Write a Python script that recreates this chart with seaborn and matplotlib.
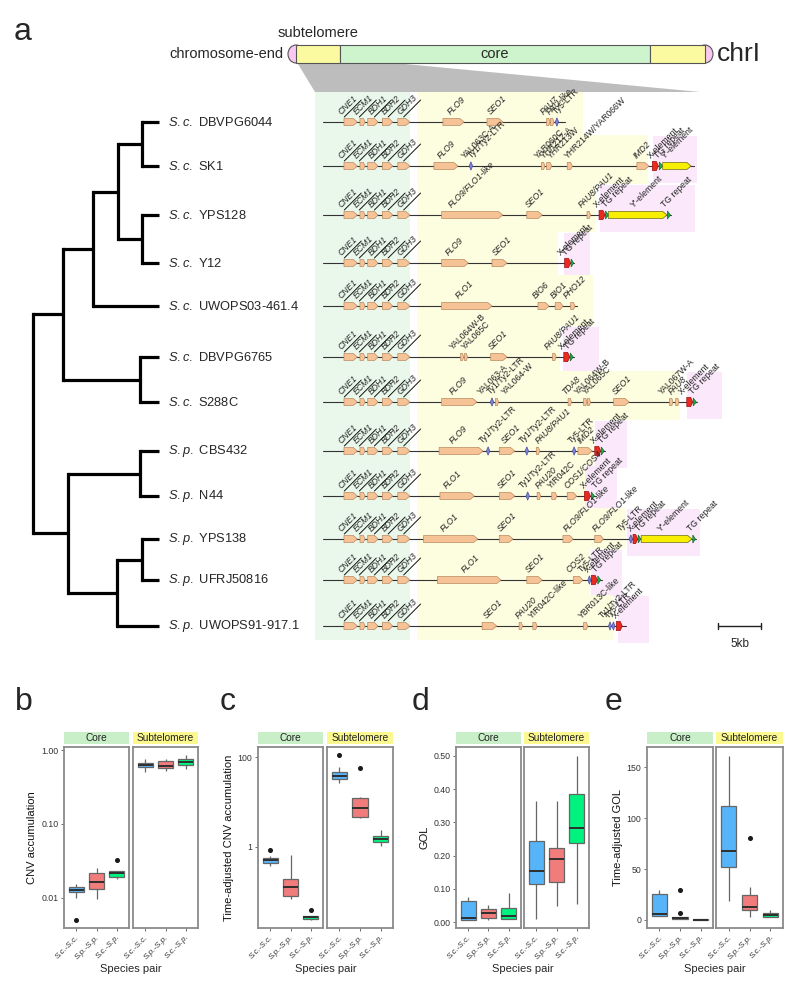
import numpy as np
import pandas as pd
import matplotlib
matplotlib.use("Agg")
import matplotlib.pyplot as plt
import seaborn as sns
from matplotlib.patches import Rectangle, Polygon, Ellipse
from matplotlib.ticker import NullLocator

# ---------------------------------------------------------------- data
strain_species = ["S.c."] * 7 + ["S.p."] * 5
strain_names = ["DBVPG6044", "SK1", "YPS128", "Y12", "UWOPS03-461.4", "DBVPG6765",
                "S288C", "CBS432", "N44", "YPS138", "UFRJ50816", "UWOPS91-917.1"]
# tree: (node depth, children); integers are tips (strain index)
tree = (0, [(30, [(60, [(85, [(109, [0, 1]), (109, [2, 3])]), 4]), (107, [5, 6])]),
            (35, [(107, [7, 8]), (84, [(109, [9, 10]), 11])])])
tip_depth = 126

chrom_parts = ["subtelomere", "core", "subtelomere"]
chrom_part_len = [44, 310, 55]

core_genes = ["CNE1", "ECM1", "BDH1", "BDH2", "GDH3"]
core_start = [2.44, 4.3, 5.2, 6.9, 8.7]
core_end = [4.0, 4.9, 6.4, 8.1, 10.1]
core_label_x = [2.3, 4.05, 5.8, 7.4, 9.2]

# features: (name, start kb, end kb, kind) kind: g gene, l LTR, x X-element, t TG repeat, y Y'-element
row_feats = [
    [("FLO9", 13.95, 16.4, "g"), ("SEO1", 19.07, 20.93, "g"), ("PAU7", 26.0, 26.4, "g"),
     ("PAU-like", 26.45, 26.85, "g"), ("Ty5-LTR", 27.0, 27.4, "l")],
    [("FLO9", 12.9, 15.7, "g"), ("Ty1/Ty2-LTR", 17.0, 17.4, "l"), ("YAR060C", 25.4, 25.8, "g"),
     ("YHR212-A", 26.0, 26.6, "g"), ("YHR214W/YAR066W", 28.4, 29.0, "g"), ("IMD2", 36.5, 37.9, "g"),
     ("X-element", 38.3, 39.0, "x"), ("TG repeat", 39.1, 39.5, "t"), ("Y'-element", 39.5, 42.8, "y")],
    [("FLO9/FLO1-like", 13.8, 20.9, "g"), ("SEO1", 23.7, 25.5, "g"), ("PAU8/PAU1", 30.7, 31.1, "g"),
     ("X-element", 32.1, 32.8, "x"), ("TG repeat", 32.85, 33.2, "t"), ("Y'-element", 33.2, 40.0, "y"),
     ("TG repeat", 40.05, 40.4, "t")],
    [("FLO9", 13.8, 16.9, "g"), ("SEO1", 19.65, 21.4, "g"), ("X-element", 28.1, 28.8, "x"),
     ("TG repeat", 28.85, 29.15, "t")],
    [("FLO1", 13.8, 19.65, "g"), ("BIO6", 25.0, 26.3, "g"), ("BIO1", 27.0, 27.9, "g"),
     ("PHO12", 28.8, 29.3, "g")],
    [("YAL064W-B", 16.0, 16.35, "g"), ("YAL065C", 16.45, 16.8, "g"), ("SEO1", 19.5, 21.4, "g"),
     ("PAU8/PAU1", 26.7, 27.1, "g"), ("X-element", 28.0, 28.7, "x"), ("TG repeat", 28.75, 29.1, "t")],
    [("FLO9", 13.8, 17.9, "g"), ("Ty1/Ty2-LTR", 19.45, 19.85, "l"), ("YAL064-W", 20.05, 20.4, "g"),
     ("TDA8", 28.5, 28.9, "g"), ("YAL064W-B", 30.3, 30.7, "g"), ("YAL065C", 30.75, 31.1, "g"),
     ("SEO1", 33.8, 35.6, "g"), ("YAL067W-A", 40.3, 40.7, "g"), ("PAU8", 41.0, 41.4, "g"),
     ("X-element", 42.3, 43.0, "x"), ("TG repeat", 43.05, 43.4, "t")],
    [("FLO9", 13.5, 18.6, "g"), ("Ty1/Ty2-LTR", 19.0, 19.4, "l"), ("SEO1", 20.5, 22.3, "g"),
     ("Ty1/Ty2-LTR", 23.5, 23.9, "l"), ("PAU8/PAU1", 24.8, 25.2, "g"), ("Ty5-LTR", 29.0, 29.4, "l"),
     ("IMD2", 29.65, 31.3, "g"), ("X-element", 31.6, 32.3, "x"), ("TG repeat", 32.35, 32.7, "t")],
    [("FLO1", 13.6, 17.6, "g"), ("SEO1", 20.5, 22.3, "g"), ("Ty1/Ty2-LTR", 23.6, 24.0, "l"),
     ("PAU20", 24.9, 25.3, "g"), ("YIR042C", 26.6, 27.2, "g"), ("COS1/COS4", 28.4, 29.5, "g"),
     ("X-element", 30.4, 31.1, "x"), ("TG repeat", 31.2, 31.55, "t")],
    [("FLO1", 11.7, 18.0, "g"), ("SEO1", 20.5, 22.1, "g"), ("FLO9/FLO1-like", 27.9, 29.1, "g"),
     ("FLO9/FLO1-like", 31.6, 32.6, "g"), ("Ty5-LTR", 35.6, 36.0, "l"), ("X-element", 36.05, 36.6, "x"),
     ("TG repeat", 36.65, 36.95, "t"), ("Y'-element", 37.0, 42.9, "y"), ("TG repeat", 43.0, 43.3, "t")],
    [("FLO1", 13.3, 20.7, "g"), ("SEO1", 23.7, 25.5, "g"), ("COS2", 29.1, 30.2, "g"),
     ("Ty5-LTR", 30.8, 31.15, "l"), ("X-element", 31.2, 31.9, "x"), ("TG repeat", 31.95, 32.3, "t")],
    [("SEO1", 18.5, 20.2, "g"), ("PAU20", 22.8, 23.2, "g"), ("YIR042C-like", 24.4, 24.9, "g"),
     ("YBR013C-like", 30.3, 30.8, "g"), ("Ty1/Ty2-LTR", 33.2, 33.55, "l"), ("Ty5-LTR", 33.6, 33.95, "l"),
     ("X-element", 34.1, 34.8, "x")],
]
row_labels = [
    [(15.0, "FLO9"), (19.65, "SEO1"), (25.8, "PAU7"), (26.5, "PAU-like"), (27.3, "Ty5-LTR")],
    [(13.8, "FLO9"), (16.6, "YAL063C-A"), (17.4, "Ty1/Ty2-LTR"), (25.1, "YAR060C"), (25.8, "YHR212-A"),
     (26.7, "YHR213W"), (28.6, "YHR214W/YAR066W"), (36.6, "IMD2"), (38.3, "X-element"),
     (39.1, "TG repeat"), (39.9, "Y'-element")],
    [(15.1, "FLO9/FLO1-like"), (24.1, "SEO1"), (30.2, "PAU8/PAU1"), (32.0, "X-element"),
     (33.0, "TG repeat"), (36.3, "Y'-element"), (39.9, "TG repeat")],
    [(14.8, "FLO9"), (20.3, "SEO1"), (27.8, "X-element"), (28.4, "TG repeat")],
    [(15.9, "FLO1"), (24.9, "BIO6"), (27.0, "BIO1"), (28.5, "PHO12")],
    [(15.3, "YAL064W-B"), (16.7, "YAL065C"), (19.8, "SEO1"), (26.3, "PAU8/PAU1"), (27.9, "X-element"),
     (28.6, "TG repeat")],
    [(15.2, "FLO9"), (18.5, "YAL063-A"), (19.6, "Ty1/Ty2-LTR"), (21.3, "YAL064-W"), (28.3, "TDA8"),
     (29.8, "YAL064W-B"), (30.7, "YAL065C"), (34.2, "SEO1"), (39.5, "YAL067W-A"), (40.7, "PAU8"),
     (41.9, "X-element"), (43.1, "TG repeat")],
    [(15.2, "FLO9"), (18.7, "Ty1/Ty2-LTR"), (21.3, "SEO1"), (23.3, "Ty1/Ty2-LTR"), (25.2, "PAU8/PAU1"),
     (29.1, "Ty5-LTR"), (30.1, "IMD2"), (31.6, "X-element"), (32.6, "TG repeat")],
    [(14.5, "FLO1"), (20.8, "SEO1"), (23.3, "Ty1/Ty2-LTR"), (25.2, "PAU20"), (26.7, "YIR042C"),
     (28.6, "COS1/COS4"), (30.5, "X-element"), (31.9, "TG repeat")],
    [(14.2, "FLO1"), (20.8, "SEO1"), (28.5, "FLO9/FLO1-like"), (31.9, "FLO9/FLO1-like"), (34.8, "Ty5-LTR"),
     (35.9, "X-element"), (36.9, "TG repeat"), (39.4, "Y'-element"), (42.9, "TG repeat")],
    [(16.7, "FLO1"), (24.1, "SEO1"), (28.8, "COS2"), (30.2, "Ty5-LTR"), (30.9, "X-element"),
     (31.9, "TG repeat")],
    [(19.2, "SEO1"), (22.9, "PAU20"), (24.4, "YIR042C-like"), (30.2, "YBR013C-like"), (32.6, "Ty1/Ty2-LTR"),
     (33.4, "Ty5-LTR"), (34.2, "X-element")],
]
row_end = [28.1, 43.1, 40.5, 29.2, 29.5, 29.2, 43.5, 32.8, 31.7, 43.4, 32.4, 35.2]
yellow_end = [30.2, 37.8, 31.6, 27.3, 31.4, 27.6, 41.5, 31.4, 30.5, 35.2, 31.0, 33.7]
pink_span = [None, (38.4, 43.5), (32.2, 43.3), (28.0, 31.0), None, (27.9, 32.1), (42.3, 46.4),
             (31.6, 35.3), (30.5, 34.2), (35.3, 43.8), (31.2, 34.8), (34.3, 37.9)]
scale_bar_kb = 5

pairs = ["S.c.-S.c.", "S.p.-S.p.", "S.c.-S.p."]
regions = ["Core", "Subtelomere"]
# values (whisker ends, quartiles, medians, outliers)
cnv_core = [[0.00505, 0.0099, 0.0119, 0.0124, 0.0128, 0.0135, 0.0142, 0.0155, 0.0155],
            [0.0097, 0.0097, 0.0131, 0.015, 0.0163, 0.019, 0.022, 0.0252, 0.0252],
            [0.0182, 0.0182, 0.0192, 0.0205, 0.0216, 0.0225, 0.0232, 0.0232, 0.0325]]
cnv_sub = [[0.50, 0.50, 0.584, 0.61, 0.627, 0.65, 0.674, 0.748, 0.748],
           [0.524, 0.524, 0.577, 0.59, 0.608, 0.66, 0.717, 0.763, 0.763],
           [0.548, 0.548, 0.627, 0.66, 0.695, 0.72, 0.748, 0.848, 0.848]]
tcnv_core = [[0.38, 0.38, 0.45, 0.48, 0.51, 0.535, 0.56, 0.63, 0.85],
             [0.07, 0.07, 0.081, 0.1, 0.129, 0.16, 0.195, 0.66, 0.66],
             [0.024, 0.024, 0.025, 0.027, 0.028, 0.0285, 0.029, 0.029, 0.04]]
tcnv_sub = [[26, 26, 32, 35, 37.8, 42, 46, 60, 110],
            [4.4, 4.4, 4.6, 6, 7.4, 9.5, 12.0, 12.9, 56],
            [1.05, 1.05, 1.29, 1.4, 1.5, 1.62, 1.76, 2.4, 2.4]]
gol_core = [[0.006, 0.006, 0.006, 0.009, 0.012, 0.03, 0.063, 0.075, 0.075],
            [0.006, 0.006, 0.012, 0.02, 0.027, 0.033, 0.039, 0.05, 0.05],
            [0.008, 0.008, 0.01, 0.015, 0.019, 0.03, 0.042, 0.087, 0.087]]
gol_sub = [[0.01, 0.01, 0.114, 0.13, 0.153, 0.2, 0.245, 0.363, 0.363],
           [0.048, 0.048, 0.12, 0.16, 0.19, 0.21, 0.223, 0.364, 0.364],
           [0.054, 0.054, 0.238, 0.26, 0.283, 0.33, 0.386, 0.50, 0.50]]
tgol_core = [[3.5, 3.5, 3.9, 4.8, 5.8, 15, 25.3, 29, 29],
             [0.5, 0.5, 0.9, 1.4, 1.9, 2.3, 2.7, 6.3, 29.2],
             [0.1, 0.1, 0.2, 0.25, 0.3, 0.35, 0.4, 0.5, 0.5]]
tgol_sub = [[18.5, 18.5, 51.6, 60, 68, 90, 112, 161, 161],
            [2.9, 2.9, 9.7, 11, 12.7, 18, 24.3, 32, 80.8],
            [2.4, 2.4, 3.0, 4, 4.9, 5.8, 6.8, 9.7, 9.7]]

# ---------------------------------------------------------------- style / layout
sns.set_theme(style="white")
plt.rcParams["font.family"] = ["Liberation Sans", "DejaVu Sans"]
plt.rcParams["mathtext.fontset"] = "custom"
plt.rcParams["mathtext.rm"] = "Liberation Sans"
plt.rcParams["mathtext.it"] = "Liberation Sans:italic"

W, H = 800, 988
fig = plt.figure(figsize=(W / 100, H / 100), dpi=100)


def px_axes(x0, y0, x1, y1):
    return fig.add_axes([x0 / W, 1 - y1 / H, (x1 - x0) / W, (y1 - y0) / H])


ROW_Y = [122, 166, 215, 263, 306, 357, 402, 451, 496, 539, 580, 626]
PX_PER_KB = 8.6
KB0_PX = 323

GENE_FC, GENE_EC = "#f6c397", "#b98a63"
COL_GREEN_BG, COL_YELLOW_BG, COL_PINK_BG = "#eaf8ec", "#fdfde0", "#fbe9fb"

# ---------------------------------------------------------------- top schematic
ax_top = px_axes(0, 0, 800, 92)
ax_top.set_xlim(0, 800)
ax_top.set_ylim(92, 0)
ax_top.axis("off")
bx0, by0, bh = 296, 45, 18
seg_cols = {"subtelomere": "#fbfaa0", "core": "#cdf4cd"}
ax_top.add_patch(Ellipse((bx0, by0 + bh / 2), 16, bh, fc="#f8c8f0", ec="#555", lw=0.8, zorder=1))
x = bx0
for part, ln in zip(chrom_parts, chrom_part_len):
    ax_top.add_patch(Rectangle((x, by0), ln, bh, fc=seg_cols[part], ec="#555", lw=0.8, zorder=2))
    x += ln
ax_top.add_patch(Ellipse((x, by0 + bh / 2), 16, bh, fc="#f8c8f0", ec="#555", lw=0.8, zorder=1))
ax_top.text(bx0 - 12, by0 + bh / 2, "chromosome-end", ha="right", va="center", fontsize=10.5)
ax_top.text(bx0 + chrom_part_len[0] / 2, 33, "subtelomere", ha="center", va="center", fontsize=10.5)
ax_top.text(bx0 + chrom_part_len[0] + chrom_part_len[1] / 2, by0 + bh / 2, "core", ha="center",
            va="center", fontsize=10.5)
ax_top.text(x + 12, by0 + bh / 2, "chrI", ha="left", va="center", fontsize=19)
ax_top.add_patch(Polygon([(bx0 + 2, 64), (405, 64), (700, 92), (315, 92)], closed=True,
                         fc="#bdbdbd", ec="none", zorder=0))
ax_top.text(14, 40, "a", fontsize=23, va="baseline")

# ---------------------------------------------------------------- tree
ax_tree = px_axes(0, 85, 300, 660)
ax_tree.set_xlim(-33, 267)
ax_tree.set_ylim(660, 85)
ax_tree.axis("off")


def draw_node(node):
    if isinstance(node, int):
        return tip_depth, ROW_Y[node]
    depth, children = node
    pts = [draw_node(c) for c in children]
    ys = [p[1] for p in pts]
    ax_tree.plot([depth, depth], [min(ys), max(ys)], color="black", lw=2.3, solid_capstyle="projecting")
    for cx, cy in pts:
        ax_tree.plot([depth, cx], [cy, cy], color="black", lw=2.3, solid_capstyle="butt")
    return depth, (min(ys) + max(ys)) / 2


draw_node(tree)
for i, (sp, nm) in enumerate(zip(strain_species, strain_names)):
    ax_tree.text(tip_depth + 9, ROW_Y[i], r"$\it{%s}$" % sp + " " + nm, va="center",
                 ha="left", fontsize=9.3)

# ---------------------------------------------------------------- gene map
ax_map = px_axes(300, 85, 800, 660)
ax_map.set_xlim((300 - KB0_PX) / PX_PER_KB, (800 - KB0_PX) / PX_PER_KB)
ax_map.set_ylim(660, 85)
ax_map.axis("off")

green_x0 = (315 - KB0_PX) / PX_PER_KB
yellow_x0 = (417 - KB0_PX) / PX_PER_KB
ax_map.add_patch(Rectangle((green_x0, 92), core_end[-1] - green_x0, 548, fc=COL_GREEN_BG, ec="none", zorder=0))
for i in range(len(strain_names)):
    top = 92 if i == 0 else ROW_Y[i] - 31
    bot = 640 if i == len(strain_names) - 1 else ROW_Y[i + 1] - 31
    ax_map.add_patch(Rectangle((yellow_x0, top), yellow_end[i] - yellow_x0, bot - top,
                               fc=COL_YELLOW_BG, ec="none", zorder=0))
    if pink_span[i] is not None:
        p0, p1 = pink_span[i]
        ax_map.add_patch(Rectangle((p0, ROW_Y[i] - 30), p1 - p0, 47, fc=COL_PINK_BG, ec="none", zorder=0))


def feature(ax, s, e, kind, y):
    if kind == "g" or kind == "y":
        h = 3.6
        t = min(0.5, 0.35 * (e - s))
        fc, ec = (GENE_FC, GENE_EC) if kind == "g" else ("#f8ee00", "#6b6a20")
        pts = [(s, y - h), (e - t, y - h), (e, y), (e - t, y + h), (s, y + h)]
        ax.add_patch(Polygon(pts, closed=True, fc=fc, ec=ec, lw=0.5, zorder=3))
    elif kind == "l":
        h = 4.2
        pts = [(s, y), ((s + e) / 2, y - h), (e, y), ((s + e) / 2, y + h)]
        ax.add_patch(Polygon(pts, closed=True, fc="#7d82d9", ec="#4b4fa0", lw=0.5, zorder=3))
    elif kind == "x":
        h = 4.6
        t = 0.25
        pts = [(s, y - h), (e - t, y - h), (e, y), (e - t, y + h), (s, y + h)]
        ax.add_patch(Polygon(pts, closed=True, fc="#ea2a1f", ec="#9a1010", lw=0.5, zorder=3))
    elif kind == "t":
        h = 4.0
        pts = [(s, y - h), (e, y), (s, y + h)]
        ax.add_patch(Polygon(pts, closed=True, fc="#1fae4c", ec="#0e6a2a", lw=0.5, zorder=3))


def is_italic(name):
    return not (name.startswith("Y") or "LTR" in name or "element" in name or "repeat" in name)


LABEL_FS = 6.2
for i, y in enumerate(ROW_Y):
    ax_map.plot([0, row_end[i]], [y, y], color="#333", lw=0.8, zorder=2)
    for g, s, e, lx in zip(core_genes, core_start, core_end, core_label_x):
        feature(ax_map, s, e, "g", y)
        ax_map.annotate(g, (lx, y), xytext=(0, 4.2), textcoords="offset points", rotation=45,
                        rotation_mode="anchor", ha="left", va="bottom", fontsize=LABEL_FS,
                        fontstyle="italic", color="#222", zorder=4)
        L = 24
        x0 = lx + 1.5 / PX_PER_KB
        y0 = y - 5.0
        ax_map.plot([x0, x0 + L * 0.707 / PX_PER_KB], [y0, y0 - L * 0.707], color="#111", lw=0.7, zorder=4)
    for name, s, e, kind in row_feats[i]:
        feature(ax_map, s, e, kind, y)
    for lx, txt in row_labels[i]:
        ax_map.annotate(txt, (lx, y), xytext=(0, 4.2), textcoords="offset points", rotation=45,
                        rotation_mode="anchor", ha="left", va="bottom", fontsize=LABEL_FS,
                        fontstyle="italic" if is_italic(txt) else "normal", color="#222", zorder=4)

sb0 = (718 - KB0_PX) / PX_PER_KB
ax_map.plot([sb0, sb0 + scale_bar_kb], [626, 626], color="#222", lw=1.0)
ax_map.plot([sb0, sb0], [623, 629], color="#222", lw=1.0)
ax_map.plot([sb0 + scale_bar_kb] * 2, [623, 629], color="#222", lw=1.0)
ax_map.text(sb0 + scale_bar_kb / 2, 644, "%dkb" % scale_bar_kb, ha="center", va="center", fontsize=8.5)

# ---------------------------------------------------------------- box plots
pair_colors = ["#56b4f9", "#f17c7c", "#00f27f"]
strip_colors = ["#c9efc9", "#fbf88f"]


def long_df(core, sub):
    rows = []
    for reg, groups in zip(regions, [core, sub]):
        for p, vals in zip(pairs, groups):
            for v in vals:
                rows.append((reg, p, v))
    return pd.DataFrame(rows, columns=["region", "pair", "value"])


panels = [
    dict(letter="b", lx=15, xs=(64, 129, 133, 198), df=long_df(cnv_core, cnv_sub), log=True,
         ylim=(0.00393, 1.098), ticks=[0.01, 0.1, 1.0], tl=["0.01", "0.10", "1.00"], ylabel="CNV accumulation"),
    dict(letter="c", lx=220, xs=(258, 323, 327, 393), df=long_df(tcnv_core, tcnv_sub), log=True,
         ylim=(0.0158, 167), ticks=[1, 100], tl=["1", "100"], ylabel="Time-adjusted CNV accumulation"),
    dict(letter="d", lx=412, xs=(456, 521, 524, 589), df=long_df(gol_core, gol_sub), log=False,
         ylim=(-0.018, 0.527), ticks=[0, 0.1, 0.2, 0.3, 0.4, 0.5],
         tl=["0.00", "0.10", "0.20", "0.30", "0.40", "0.50"], ylabel="GOL"),
    dict(letter="e", lx=605, xs=(647, 713, 716, 783), df=long_df(tgol_core, tgol_sub), log=False,
         ylim=(-8, 170), ticks=[0, 50, 100, 150], tl=["0", "50", "100", "150"], ylabel="Time-adjusted GOL"),
]

for P in panels:
    xs = P["xs"]
    for j, reg in enumerate(regions):
        x0, x1 = xs[2 * j], xs[2 * j + 1]
        ax = px_axes(x0, 747, x1, 928)
        sub = P["df"][P["df"]["region"] == reg]
        sns.boxplot(data=sub, x="pair", y="value", hue="pair", order=pairs, hue_order=pairs,
                    palette=pair_colors, saturation=1, legend=False, width=0.75, linewidth=0.9,
                    linecolor="#666666", showcaps=False, log_scale=P["log"], ax=ax,
                    flierprops=dict(marker="o", markersize=2.6, markerfacecolor="#1a1a1a",
                                    markeredgecolor="#1a1a1a"),
                    medianprops=dict(color="#2e2e2e", linewidth=1.4))
        ax.set_xlim(-0.6, 2.6)
        ax.set_ylim(*P["ylim"])
        ax.yaxis.set_minor_locator(NullLocator())
        ax.set_facecolor("white")
        for sp in ax.spines.values():
            sp.set_visible(True)
            sp.set_color("#8a8a8a")
            sp.set_linewidth(1.3)
        ax.set_xticks(range(3))
        ax.set_xticklabels(pairs, rotation=45, ha="right", rotation_mode="anchor", fontstyle="italic",
                           fontsize=5.8)
        if j == 0:
            ax.set_yticks(P["ticks"])
            ax.set_yticklabels(P["tl"])
            ax.set_ylabel(P["ylabel"], fontsize=8, labelpad=3, color="#111")
        else:
            ax.set_yticks([])
            ax.set_ylabel("")
        ax.set_xlabel("")
        ax.tick_params(axis="y", which="major", labelsize=6.3)
        ax.tick_params(axis="both", which="major", length=2.5, width=0.6, color="#555",
                       labelcolor="#333", pad=1.5, left=(j == 0), bottom=True)
        sax = px_axes(x0, 732, x1, 744)
        sax.set_facecolor(strip_colors[j])
        sax.set_xticks([])
        sax.set_yticks([])
        for sp in sax.spines.values():
            sp.set_visible(False)
        sax.text(0.5, 0.5, reg, ha="center", va="center", fontsize=7.3, color="#222", transform=sax.transAxes)
    fig.text((xs[0] + xs[3]) / 2 / W, 1 - 969 / H, "Species pair", ha="center", va="center", fontsize=8)
    fig.text(P["lx"] / W, 1 - 710 / H, P["letter"], fontsize=23, va="baseline")

fig.savefig("out.png", dpi=100)
